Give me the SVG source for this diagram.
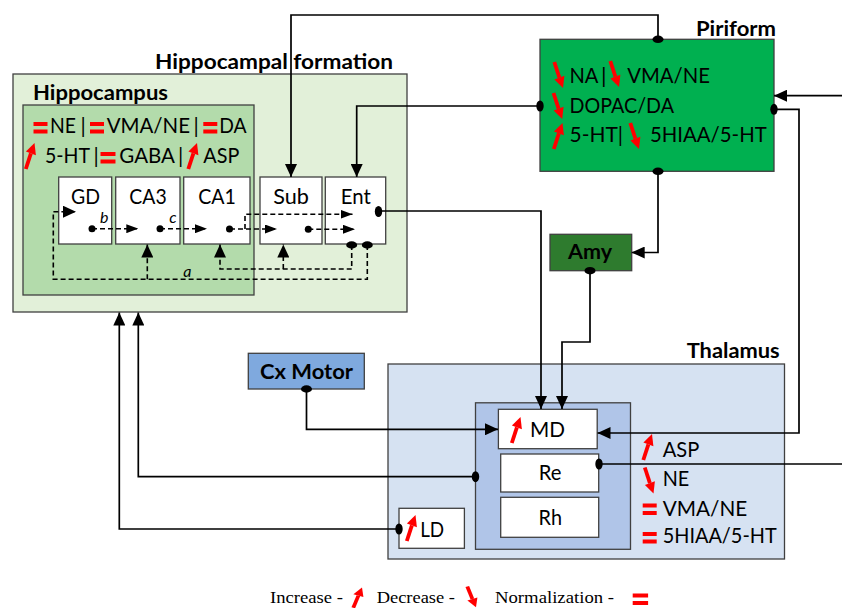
<svg xmlns="http://www.w3.org/2000/svg" width="842" height="608" viewBox="0 0 842 608">
<defs>
<style>
.box{stroke:#404040;stroke-width:1.3}
.w{fill:#fff}
.t{font-family:Lato,"Open Sans","Liberation Sans",sans-serif;font-size:22px;fill:#000}
.t2{font-family:Lato,"Open Sans","Liberation Sans",sans-serif;font-size:21px;fill:#000}
.tb{font-family:Lato,"Open Sans","Liberation Sans",sans-serif;font-size:20px;font-weight:bold;fill:#000}
.it{font-family:Lato,"Liberation Sans",sans-serif;font-size:16px;font-style:italic;fill:#000}
.leg{font-family:"Liberation Serif","Times New Roman",serif;font-size:17.5px;fill:#000}
.c{fill:none;stroke:#000;stroke-width:1.7}
.d{fill:none;stroke:#000;stroke-width:1.6;stroke-dasharray:5 3}
.dot{fill:#000}
.red{fill:#f00}
.rs{fill:none;stroke:#f00;stroke-width:3.8}
</style>
<marker id="ah" markerWidth="13" markerHeight="12" refX="13" refY="6" orient="auto" markerUnits="userSpaceOnUse"><path d="M0,0 L13,6 L0,12 z" fill="#000"/></marker>
<marker id="as" markerWidth="12" markerHeight="9" refX="12" refY="4.5" orient="auto" markerUnits="userSpaceOnUse"><path d="M0,0 L12,4.5 L0,9 z" fill="#000"/></marker>
<g id="up"><path class="rs" d="M1.8,26 L6.9,10.4"/><polygon class="red" points="10.5,0 11.9,12.2 1.9,8.6"/></g>
<g id="dn"><path class="rs" d="M1.8,0 L6.9,15.6"/><polygon class="red" points="10.5,26 11.9,13.8 1.9,17.4"/></g>
<g id="eq" class="red"><rect x="0" y="0" width="14" height="4"/><rect x="0" y="7.5" width="14" height="4"/></g>
</defs>
<rect width="842" height="608" fill="#fff"/>

<g id="hippocampal-formation">
<rect x="13" y="74" width="394" height="238" fill="#e2f0d9" class="box"/>
<text class="tb" x="155" y="68.7" textLength="238" lengthAdjust="spacingAndGlyphs">Hippocampal formation</text>
</g>

<g id="hippocampus">
<rect x="23" y="105" width="231" height="190" fill="#b3dbab" class="box"/>
<text class="tb" x="33" y="99.7" textLength="135" lengthAdjust="spacingAndGlyphs">Hippocampus</text>
<use href="#eq" x="33.5" y="122"/>
<text class="t2" x="50" y="133" textLength="26" lengthAdjust="spacingAndGlyphs">NE</text>
<text class="t2" x="80.5" y="133">|</text>
<use href="#eq" x="90" y="122"/>
<text class="t2" x="106.7" y="133" textLength="83.3" lengthAdjust="spacingAndGlyphs">VMA/NE</text>
<text class="t2" x="193.5" y="133">|</text>
<use href="#eq" x="203.3" y="122"/>
<text class="t2" x="219.3" y="133" textLength="27.4" lengthAdjust="spacingAndGlyphs">DA</text>
<use href="#up" x="24" y="143"/>
<text class="t2" x="45" y="162.7" textLength="45" lengthAdjust="spacingAndGlyphs">5-HT</text>
<text class="t2" x="93.5" y="162.7">|</text>
<use href="#eq" transform="translate(100.5,152) scale(1.07,1)"/>
<text class="t2" x="119.3" y="162.7" textLength="55.7" lengthAdjust="spacingAndGlyphs">GABA</text>
<text class="t2" x="178" y="162.7">|</text>
<use href="#up" x="186.5" y="143"/>
<text class="t2" x="203.3" y="162.7" textLength="36" lengthAdjust="spacingAndGlyphs">ASP</text>
</g>

<g id="GD"><rect x="58.7" y="177" width="53" height="67" class="box w"/><text class="t" x="85.5" y="204" text-anchor="middle" textLength="29" lengthAdjust="spacingAndGlyphs">GD</text></g>
<g id="CA3"><rect x="115.7" y="177" width="64.3" height="67" class="box w"/><text class="t" x="148" y="204" text-anchor="middle" textLength="37.3" lengthAdjust="spacingAndGlyphs">CA3</text></g>
<g id="CA1"><rect x="183.7" y="177" width="66.3" height="67" class="box w"/><text class="t" x="217" y="204" text-anchor="middle" textLength="37.7" lengthAdjust="spacingAndGlyphs">CA1</text></g>
<g id="Sub"><rect x="260" y="177" width="62" height="67" class="box w"/><text class="t" x="291" y="204" text-anchor="middle" textLength="35.7" lengthAdjust="spacingAndGlyphs">Sub</text></g>
<g id="Ent"><rect x="325.3" y="177" width="60.4" height="67" class="box w"/><text class="t" x="355.7" y="204" text-anchor="middle" textLength="30" lengthAdjust="spacingAndGlyphs">Ent</text></g>

<g id="piriform">
<rect x="540" y="39.3" width="234" height="132" fill="#00b050" class="box"/>
<text class="tb" x="696" y="35.7" textLength="80" lengthAdjust="spacingAndGlyphs">Piriform</text>
<use href="#dn" x="552.5" y="62"/>
<text class="t" x="569.5" y="83.3" textLength="29" lengthAdjust="spacingAndGlyphs">NA</text>
<text class="t" x="601" y="83.3">|</text>
<use href="#dn" x="608.5" y="61"/>
<text class="t" x="627.3" y="83.3" textLength="82.7" lengthAdjust="spacingAndGlyphs">VMA/NE</text>
<use href="#dn" x="551.7" y="93"/>
<text class="t" x="569.5" y="113.3" textLength="104.5" lengthAdjust="spacingAndGlyphs">DOPAC/DA</text>
<use href="#up" x="552" y="123"/>
<text class="t" x="569.5" y="142.3" textLength="53.5" lengthAdjust="spacingAndGlyphs">5-HT|</text>
<use href="#dn" x="628.5" y="123"/>
<text class="t" x="650" y="142.3" textLength="116.7" lengthAdjust="spacingAndGlyphs">5HIAA/5-HT</text>
</g>

<g id="amy">
<rect x="550" y="234.3" width="81.7" height="36.4" fill="#2e7b2e" class="box"/>
<text class="tb" x="590" y="259" text-anchor="middle" textLength="44" lengthAdjust="spacingAndGlyphs">Amy</text>
</g>

<g id="cx-motor">
<rect x="248.3" y="353.3" width="116" height="35.7" fill="#7fa9de" class="box"/>
<text class="tb" x="306.5" y="379" text-anchor="middle" textLength="93" lengthAdjust="spacingAndGlyphs">Cx Motor</text>
</g>

<g id="thalamus">
<rect x="388" y="364" width="396.5" height="195" fill="#d6e2f2" class="box"/>
<text class="tb" x="686.7" y="358.3" textLength="93" lengthAdjust="spacingAndGlyphs">Thalamus</text>
<rect x="475.5" y="402.8" width="155" height="146.5" fill="#b0c5e8" class="box"/>
<use href="#up" x="641.5" y="434"/>
<text class="t" x="662.7" y="456.7" textLength="36.6" lengthAdjust="spacingAndGlyphs">ASP</text>
<use href="#dn" x="643" y="467.5"/>
<text class="t" x="662.7" y="486" textLength="26.6" lengthAdjust="spacingAndGlyphs">NE</text>
<use href="#eq" x="642.7" y="503.5"/>
<text class="t" x="662.7" y="515.7" textLength="84.6" lengthAdjust="spacingAndGlyphs">VMA/NE</text>
<use href="#eq" x="642.7" y="532"/>
<text class="t" x="662.7" y="543.3" textLength="114" lengthAdjust="spacingAndGlyphs">5HIAA/5-HT</text>
</g>

<g id="MD"><rect x="498.4" y="409.3" width="98.8" height="39.4" class="box w"/><use href="#up" x="510" y="417"/><text class="t" x="530" y="436.7" textLength="35" lengthAdjust="spacingAndGlyphs">MD</text></g>
<g id="Re"><rect x="500.7" y="454" width="98" height="38" class="box w"/><text class="t" x="550" y="480" text-anchor="middle" textLength="22.7" lengthAdjust="spacingAndGlyphs">Re</text></g>
<g id="Rh"><rect x="500.7" y="497.3" width="98" height="40" class="box w"/><text class="t" x="550.3" y="525" text-anchor="middle" textLength="23.4" lengthAdjust="spacingAndGlyphs">Rh</text></g>
<g id="LD"><rect x="399" y="508.3" width="65.4" height="40" class="box w"/><use href="#up" x="405" y="515"/><text class="t" x="420.2" y="536.7" textLength="24" lengthAdjust="spacingAndGlyphs">LD</text></g>

<g id="connectors">
<path class="c" d="M658,39 V15 H291 V177" marker-end="url(#ah)"/>
<path class="c" d="M540,106 H356.7 V177" marker-end="url(#ah)"/>
<path class="c" d="M378.5,211 H541 V409" marker-end="url(#ah)"/>
<path class="c" d="M658,171 V252.5 H631.7" marker-end="url(#ah)"/>
<path class="c" d="M590,271 V342 H562 V409" marker-end="url(#ah)"/>
<path class="c" d="M842,95.7 H774" marker-end="url(#ah)"/>
<path class="c" d="M774,109.3 H799 V433 H597.5" marker-end="url(#ah)"/>
<path class="c" d="M306.5,389 V429.3 H498" marker-end="url(#ah)"/>
<path class="c" d="M475.5,476.7 H138.3 V312.5" marker-end="url(#ah)"/>
<path class="c" d="M399,529 H119.3 V312.5" marker-end="url(#ah)"/>
<path class="c" d="M599,464 H842"/>
<path class="d" d="M92,228.7 H138.3" marker-end="url(#as)"/>
<path class="d" d="M160,228.7 H207" marker-end="url(#as)"/>
<path class="d" d="M230,229 H277" marker-end="url(#as)"/>
<path class="d" d="M245,229 V214.3 H352.5" marker-end="url(#as)"/>
<path class="d" d="M308.3,229.3 H355" marker-end="url(#as)"/>
<path class="d" d="M351.7,245 V269 H220 V244.5" marker-end="url(#ah)"/>
<path class="d" d="M283.3,269 V244.5" marker-end="url(#ah)"/>
<path class="d" d="M367.3,245 V279.3 H53.3 V211.7 H76" marker-end="url(#ah)"/>
<path class="d" d="M147.3,279.3 V244.5" marker-end="url(#ah)"/>
<circle class="dot" cx="92" cy="228.7" r="3.5"/>
<circle class="dot" cx="160" cy="228.7" r="3.5"/>
<circle class="dot" cx="229.5" cy="229" r="3.5"/>
<circle class="dot" cx="308.3" cy="229.3" r="3.5"/>
<ellipse class="dot" cx="351.7" cy="245" rx="5.5" ry="3.7"/>
<ellipse class="dot" cx="367.3" cy="245" rx="5.5" ry="3.7"/>
<ellipse class="dot" cx="378.5" cy="211.5" rx="3.7" ry="5.5"/>
<ellipse class="dot" cx="658" cy="39.3" rx="5.5" ry="3.7"/>
<ellipse class="dot" cx="540" cy="106" rx="3.7" ry="5.5"/>
<ellipse class="dot" cx="658" cy="171.3" rx="5.5" ry="3.7"/>
<ellipse class="dot" cx="774" cy="109.3" rx="3.7" ry="5.5"/>
<ellipse class="dot" cx="590" cy="270.7" rx="5.5" ry="3.7"/>
<ellipse class="dot" cx="306.5" cy="389" rx="5.5" ry="3.7"/>
<ellipse class="dot" cx="475.5" cy="476.7" rx="3.7" ry="5.5"/>
<ellipse class="dot" cx="399" cy="529" rx="3.7" ry="5.5"/>
<ellipse class="dot" cx="599" cy="464" rx="3.7" ry="5.5"/>
</g>

<g id="labels">
<text class="it" x="100" y="223.3">b</text>
<text class="it" x="169.3" y="223.3">c</text>
<text class="it" x="183.3" y="277">a</text>
</g>

<g id="legend">
<text class="leg" x="270" y="603" textLength="73" lengthAdjust="spacingAndGlyphs">Increase -</text>
<use href="#up" transform="translate(351.5,587.5) scale(1,0.78)"/>
<text class="leg" x="376.7" y="603" textLength="78.3" lengthAdjust="spacingAndGlyphs">Decrease -</text>
<use href="#dn" transform="translate(465.5,586.5) scale(1,0.8)"/>
<text class="leg" x="495" y="603" textLength="119" lengthAdjust="spacingAndGlyphs">Normalization -</text>
<use href="#eq" transform="translate(632.7,593.5) scale(1.1,1)"/>
</g>
</svg>
